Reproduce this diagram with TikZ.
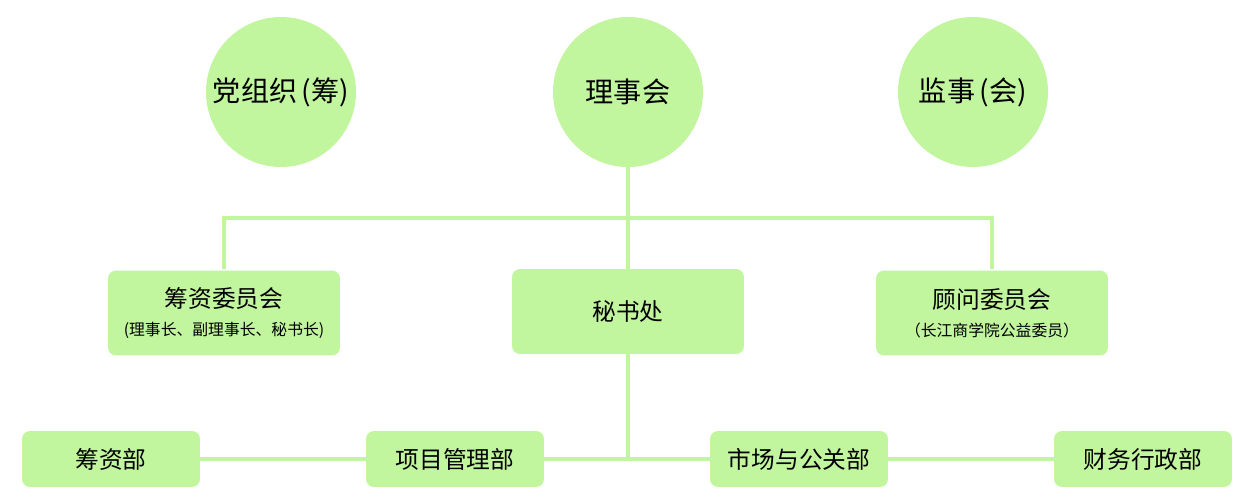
\documentclass[tikz,border=0pt]{standalone}
\usepackage{fontspec}
\setmainfont{Noto Sans CJK SC}
\usetikzlibrary{positioning}
\definecolor{leafgreen}{HTML}{C1F59E}

\begin{document}
\begin{tikzpicture}[x=0.02cm,y=-0.02cm,
	council/.style={circle,fill=leafgreen,minimum size=3cm,inner sep=0pt,font=\fontsize{16}{20}\selectfont},
	office/.style={rectangle,rounded corners=0.16cm,fill=leafgreen,minimum width=4.64cm,minimum height=1.7cm,inner sep=0pt,align=center,font=\fontsize{13.5}{16}\selectfont},
	dept/.style={rectangle,rounded corners=0.16cm,fill=leafgreen,minimum width=3.56cm,minimum height=1.12cm,inner sep=0pt,font=\fontsize{13.5}{16}\selectfont},
	link/.style={draw=leafgreen,line width=0.08cm}]
	\useasboundingbox (0,0) rectangle (1245,499);
	% top row
	\node[council] (party) at (281,92) {党组织\,(筹)};
	\node[council] (board) at (628,92) {理事会};
	\node[council] (supervisor) at (973,92) {监事\,(会)};
	% middle row
	\node[office] (fundcomm) at (224,313) {筹资委员会\\[0pt]{\fontsize{9}{11}\selectfont (理事长、副理事长、秘书长)}};
	\node[office] (secretariat) at (628,311.5) {秘书处};
	\node[office] (advisory) at (992,313) {顾问委员会\\[0pt]{\fontsize{9}{11}\selectfont （长江商学院公益委员）}};
	% bottom row
	\node[dept] (fundraising) at (111,459) {筹资部};
	\node[dept] (project) at (455,459) {项目管理部};
	\node[dept] (market) at (799,459) {市场与公关部};
	\node[dept] (finance) at (1143,459) {财务行政部};
	\coordinate (upperbus) at (628,218);
	\coordinate (lowerbus) at (628,459);
	\draw[link] (board.south) -- (secretariat.north);
	\draw[link] (fundcomm.north |- secretariat.north) |- (upperbus) -| (advisory.north |- secretariat.north);
	\draw[link] (secretariat.south) -- (lowerbus);
	\draw[link] (fundraising.east) -- (project.west);
	\draw[link] (project.east) -- (market.west);
	\draw[link] (market.east) -- (finance.west);
\end{tikzpicture}
\end{document}
